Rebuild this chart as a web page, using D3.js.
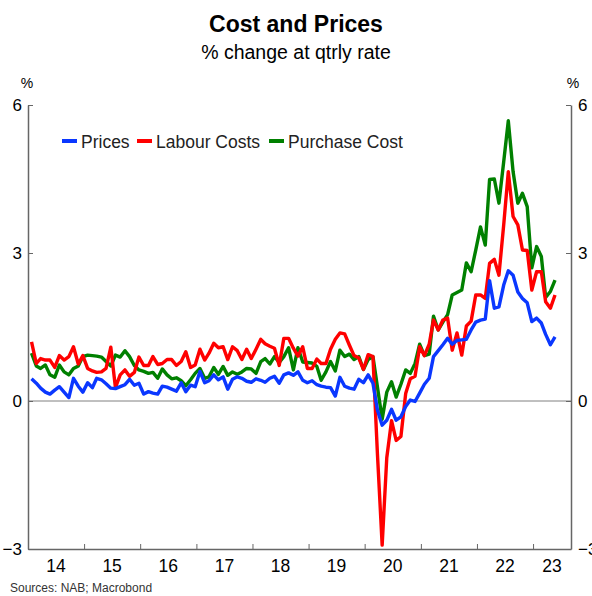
<!DOCTYPE html>
<html>
<head>
<meta charset="utf-8">
<script src="https://cdn.jsdelivr.net/npm/d3@7"></script>
<style>
  body { margin: 0; background: #fff; }
  svg { display: block; font-family: "Liberation Sans", Arial, sans-serif; }
</style>
</head>
<body>
<div id="chart"></div>
<script>
// monthly observations, Jan 2014 .. May 2023
var firstMonth = new Date(2014, 0, 1);
var lastMonth = new Date(2023, 4, 1);

var prices = [
  0.45, 0.36, 0.26, 0.18, 0.14, 0.22, 0.29, 0.18, 0.07, 0.46, 0.30, 0.18,
  0.37, 0.27, 0.46, 0.43, 0.35, 0.26, 0.25, 0.29, 0.33, 0.44, 0.32, 0.36,
  0.14, 0.19, 0.16, 0.14, 0.30, 0.28, 0.24, 0.20, 0.37, 0.19, 0.32, 0.29,
  0.60, 0.37, 0.41, 0.53, 0.43, 0.49, 0.24, 0.44, 0.49, 0.46, 0.40, 0.38,
  0.45, 0.42, 0.38, 0.46, 0.50, 0.36, 0.53, 0.57, 0.52, 0.59, 0.42, 0.37,
  0.41, 0.33, 0.30, 0.28, 0.27, 0.10, 0.48, 0.30, 0.26, 0.24, 0.44, 0.37,
  0.53, 0.36, -0.18, -0.49, -0.39, -0.17, -0.39, -0.32, -0.11, 0.02, -0.01, 0.16,
  0.34, 0.46, 0.90, 1.02, 1.14, 1.27, 1.15, 1.23, 1.24, 1.25, 1.44, 1.60,
  1.64, 1.66, 2.44, 1.88, 1.91, 2.35, 2.64, 2.55, 2.21, 2.08, 1.99, 1.61,
  1.68, 1.58, 1.35, 1.14, 1.30
];

var labourCosts = [
  1.20, 0.76, 0.86, 0.83, 0.83, 0.68, 0.92, 0.83, 0.90, 1.10, 0.75, 0.92,
  0.66, 0.61, 0.58, 0.59, 0.66, 1.09, 0.27, 0.53, 0.63, 0.50, 0.58, 0.89,
  0.72, 0.72, 0.90, 0.74, 0.76, 0.84, 0.84, 0.72, 0.80, 1.00, 0.68, 0.73,
  1.05, 0.83, 0.97, 1.17, 1.08, 1.10, 0.84, 1.10, 1.02, 0.84, 1.05, 0.86,
  1.05, 1.25, 1.16, 1.11, 1.07, 0.72, 1.27, 1.27, 1.07, 0.91, 1.10, 0.66,
  0.66, 0.85, 0.76, 0.76, 1.05, 1.25, 1.38, 1.36, 1.13, 0.92, 0.87, 0.64,
  0.94, 0.90, -1.06, -2.92, -1.15, -0.40, -0.80, -0.72, 0.15, 0.45, 0.50, 1.10,
  0.92, 1.15, 1.64, 1.44, 1.64, 1.68, 1.03, 1.38, 0.93, 1.52, 1.62, 2.15,
  2.15, 2.08, 2.79, 2.87, 2.55, 3.57, 4.65, 3.74, 3.57, 3.06, 3.05, 2.25,
  2.62, 2.62, 2.01, 1.88, 2.15
];

var purchaseCost = [
  0.97, 0.71, 0.66, 0.73, 0.53, 0.48, 0.73, 0.59, 0.53, 0.66, 0.71, 0.90,
  0.93, 0.92, 0.91, 0.89, 0.80, 0.71, 0.93, 0.89, 1.02, 0.90, 0.72, 0.63,
  0.60, 0.56, 0.58, 0.46, 0.65, 0.53, 0.45, 0.47, 0.41, 0.31, 0.43, 0.56,
  0.66, 0.46, 0.49, 0.68, 0.54, 0.70, 0.52, 0.59, 0.54, 0.59, 0.66, 0.65,
  0.56, 0.80, 0.86, 0.75, 0.90, 0.78, 0.90, 1.08, 0.63, 1.08, 0.79, 0.78,
  0.77, 0.70, 0.42, 0.59, 0.80, 0.61, 1.03, 0.90, 0.95, 0.84, 0.90, 0.64,
  0.84, 0.90, 0.29, -0.37, 0.18, 0.39, 0.08, 0.34, 0.63, 0.56, 0.76, 1.15,
  0.92, 0.95, 1.72, 1.44, 1.60, 1.75, 2.15, 2.20, 2.25, 2.80, 2.62, 3.06,
  3.53, 3.16, 4.49, 4.50, 4.01, 4.85, 5.68, 4.65, 4.01, 4.21, 3.94, 2.70,
  3.13, 2.93, 2.10, 2.22, 2.45
];

var seriesNames = ["Prices", "Labour Costs", "Purchase Cost"];
var seriesColors = ["#0a37ff", "#ff0000", "#008000"];
var yTicks = [-3, 0, 3, 6];
var yearLabels = ["14", "15", "16", "17", "18", "19", "20", "21", "22", "23"];

var w = 592, h = 596;
var months = d3.timeMonth.range(firstMonth, d3.timeMonth.offset(lastMonth, 1));
var axisStart = new Date(2014, 0, 1), axisEnd = new Date(2023, 8, 5);

var x = d3.scaleTime().domain([axisStart, axisEnd]).range([28, 571]);
var y = d3.scaleLinear().domain([-3, 6]).range([549, 105]);

var svg = d3.select("#chart").append("svg")
    .attr("width", w)
    .attr("height", h);

svg.append("text")
    .attr("x", w / 2).attr("y", 32)
    .attr("text-anchor", "middle")
    .attr("font-size", "23px").attr("font-weight", "bold")
    .attr("fill", "#000")
    .text("Cost and Prices");

svg.append("text")
    .attr("x", w / 2).attr("y", 59)
    .attr("text-anchor", "middle")
    .attr("font-size", "19.5px")
    .attr("fill", "#000")
    .text("% change at qtrly rate");

// zero line
svg.append("line")
    .attr("x1", x.range()[0]).attr("x2", x.range()[1])
    .attr("y1", y(0)).attr("y2", y(0))
    .attr("stroke", "#808080").attr("stroke-width", 1);

// series, drawn back to front
var series = [
  {name: seriesNames[2], color: seriesColors[2], values: purchaseCost},
  {name: seriesNames[1], color: seriesColors[1], values: labourCosts},
  {name: seriesNames[0], color: seriesColors[0], values: prices}
];

var line = d3.line()
    .x(function(d, i) { return x(d3.timeDay.offset(months[i], 23)); })
    .y(function(d) { return y(d); });

svg.selectAll("path.series")
    .data(series)
    .enter().append("path")
    .attr("class", "series")
    .attr("d", function(d) { return line(d.values); })
    .attr("fill", "none")
    .attr("stroke", function(d) { return d.color; })
    .attr("stroke-width", 3.4)
    .attr("stroke-linejoin", "round");

// axes
var yLeft = d3.axisLeft(y).tickValues(yTicks).tickSize(-5).tickPadding(6).tickFormat(d3.format("d"));
var yRight = d3.axisRight(y).tickValues(yTicks).tickSize(-5).tickPadding(6).tickFormat(d3.format("d"));

function styleAxis(g) {
  g.select(".domain").attr("stroke", "#666").attr("stroke-width", 1.5);
  g.selectAll(".tick line").attr("stroke", "#666");
  g.selectAll(".tick text").attr("fill", "#000").attr("font-size", "17px")
      .attr("font-family", "Liberation Sans, Arial, sans-serif");
}

svg.append("g")
    .attr("transform", "translate(" + x.range()[0] + ",0)")
    .call(yLeft.tickSizeOuter(0))
    .call(styleAxis)
    .selectAll(".tick text").attr("x", -6);

svg.append("g")
    .attr("transform", "translate(" + x.range()[1] + ",0)")
    .call(yRight.tickSizeOuter(0))
    .call(styleAxis)
    .selectAll(".tick text").attr("x", 7);

var yearTicks = d3.timeYear.range(new Date(2015, 0, 1), new Date(2024, 0, 1));
svg.append("g")
    .attr("transform", "translate(0," + y(-3) + ")")
    .call(d3.axisBottom(x).tickValues(yearTicks).tickSize(-5).tickSizeOuter(0).tickFormat(""))
    .call(styleAxis);

var years = d3.timeYear.range(new Date(2014, 0, 1), new Date(2024, 0, 1));
svg.selectAll("text.year")
    .data(years)
    .enter().append("text")
    .attr("class", "year")
    .attr("x", function(d) {
      var a = x(d), b = Math.min(x(d3.timeYear.offset(d, 1)), x.range()[1]);
      return (a + b) / 2;
    })
    .attr("y", 572)
    .attr("text-anchor", "middle")
    .attr("font-size", "17.5px")
    .attr("fill", "#000")
    .text(function(d, i) { return yearLabels[i]; });

// unit labels
svg.append("text").attr("x", 27).attr("y", 88).attr("text-anchor", "middle")
    .attr("font-size", "14px").attr("fill", "#000").text("%");
svg.append("text").attr("x", 573).attr("y", 88).attr("text-anchor", "middle")
    .attr("font-size", "14px").attr("fill", "#000").text("%");

// legend
var legendX = [62, 137, 269];
var legend = svg.selectAll("g.legend")
    .data(seriesNames)
    .enter().append("g")
    .attr("class", "legend")
    .attr("transform", function(d, i) { return "translate(" + legendX[i] + ",141)"; });

legend.append("line")
    .attr("x1", 0).attr("x2", 15)
    .attr("y1", 0).attr("y2", 0)
    .attr("stroke", function(d, i) { return seriesColors[i]; })
    .attr("stroke-width", 4);

legend.append("text")
    .attr("x", 19).attr("y", 6.5)
    .attr("font-size", "17.5px")
    .attr("fill", "#222")
    .text(function(d) { return d; });

svg.append("text")
    .attr("x", 10).attr("y", 592)
    .attr("font-size", "12px")
    .attr("fill", "#333")
    .text("Sources: NAB; Macrobond");
</script>
</body>
</html>
